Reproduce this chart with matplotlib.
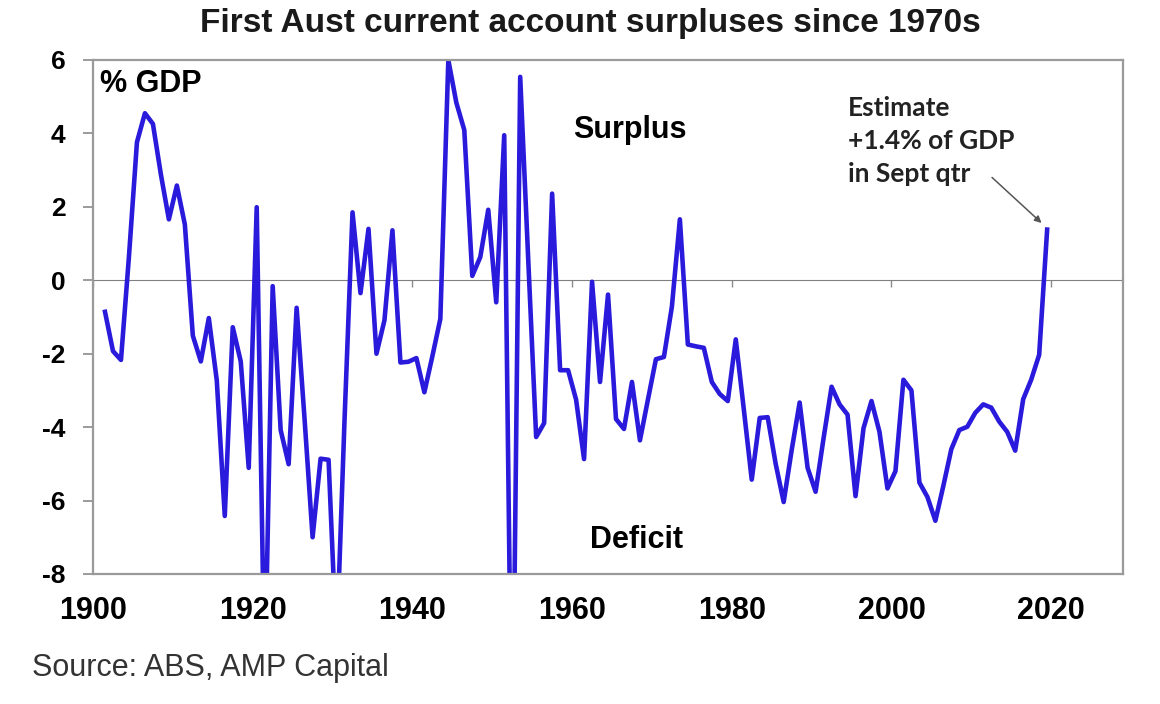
# Australian current account balance, % of GDP, 1901 to 2019
import numpy as np
import matplotlib.pyplot as plt

years = list(range(1901, 2020))
ca_balance = [
    -0.86, -1.93, -2.17, 0.65, 3.76, 4.55, 4.26, 2.88, 1.66, 2.58,      # 1901-1910
    1.52, -1.51, -2.21, -1.03, -2.73, -6.42, -1.28, -2.21, -5.11, 1.99,  # 1911-1920
    -11.0, -0.16, -4.08, -5.01, -0.75, -3.8, -7.0, -4.86, -4.89, -10.0,  # 1921-1930
    -3.8, 1.85, -0.35, 1.40, -2.0, -1.09, 1.36, -2.24, -2.22, -2.12,     # 1931-1940
    -3.05, -2.07, -1.05, 6.0, 4.84, 4.09, 0.12, 0.63, 1.92, -0.60,       # 1941-1950
    3.95, -14.0, 5.54, 0.6, -4.27, -3.89, 2.36, -2.45, -2.45, -3.25,     # 1951-1960
    -4.87, -0.04, -2.77, -0.39, -3.78, -4.05, -2.77, -4.36, -3.25, -2.15,  # 1961-1970
    -2.09, -0.72, 1.66, -1.75, -1.80, -1.84, -2.77, -3.10, -3.29, -1.61,   # 1971-1980
    -3.5, -5.43, -3.75, -3.73, -5.0, -6.04, -4.63, -3.33, -5.11, -5.76,    # 1981-1990
    -4.3, -2.90, -3.38, -3.66, -5.88, -4.03, -3.29, -4.13, -5.67, -5.2,    # 1991-2000
    -2.71, -3.0, -5.51, -5.90, -6.55, -5.6, -4.6, -4.08, -3.99, -3.61,     # 2001-2010
    -3.38, -3.47, -3.85, -4.13, -4.64, -3.24, -2.71, -2.03, 1.38,          # 2011-2019
]
x_ticks = [1900, 1920, 1940, 1960, 1980, 2000, 2020]
y_ticks = [-8, -6, -4, -2, 0, 2, 4, 6]

plt.rcParams['font.family'] = ['Liberation Sans', 'DejaVu Sans']
plt.rcParams['axes.unicode_minus'] = False

fig = plt.figure(figsize=(11.6, 7.04), dpi=100)
ax = fig.add_axes([0.0802, 0.1847, 0.8879, 0.7301])

# annual values plotted at mid-year
x = np.array(years) + 0.5
ax.plot(x, ca_balance, color='#2a1adb', linewidth=3.3, solid_joinstyle='round')

ax.set_xlim(1900, 2029)
ax.set_ylim(-8, 6)
ax.set_xticks(x_ticks)
ax.set_yticks(y_ticks)
ax.tick_params(axis='x', length=0, pad=16, labelsize=22)
ax.tick_params(axis='y', direction='out', length=7, width=1.2, color='#8a8a8a',
               pad=13, labelsize=19)
for lab in ax.get_xticklabels() + ax.get_yticklabels():
    lab.set_fontweight('bold')
for sp in ax.spines.values():
    sp.set_color('#9a9a9a')
    sp.set_linewidth(1.6)

# zero line with small tick marks
zero_ax = ax.secondary_xaxis(8 / 14)
zero_ax.set_xticks(x_ticks)
zero_ax.tick_params(direction='in', length=5, width=1, color='#8a8a8a',
                    labeltop=False, labelbottom=False)
zero_ax.spines['top'].set_color('#808080')
zero_ax.spines['bottom'].set_color('#808080')

ax.text(1900.9, 5.13, '% GDP', fontsize=22, fontweight='bold', ha='left', va='baseline')
ax.text(1967.2, 4.09, 'Surplus', fontsize=22, fontweight='bold', ha='center', va='center')
ax.text(1968.1, -7.07, 'Deficit', fontsize=22, fontweight='bold', ha='center', va='center')

ax.annotate('Estimate\n+1.4% of GDP\nin Sept qtr', xy=(2018.8, 1.56), xytext=(1994.6, 3.8),
            fontsize=19, fontweight='bold', family=['Lato', 'DejaVu Sans'],
            color='#222222', ha='left', va='center', linespacing=1.45)
ax.annotate('', xy=(2018.8, 1.56), xytext=(2012.6, 2.8),
            arrowprops=dict(arrowstyle='-|>', color='#555555', lw=1.1,
                            mutation_scale=10, shrinkA=0, shrinkB=0))

fig.text(0.509, 0.967, 'First Aust current account surpluses since 1970s',
         fontsize=24, fontweight='bold', ha='center', va='center', color='#1a1a1a')
fig.text(0.028, 0.051, 'Source: ABS, AMP Capital', fontsize=22, ha='left',
         va='center', color='#333333')

fig.savefig('out.png', dpi=100)
